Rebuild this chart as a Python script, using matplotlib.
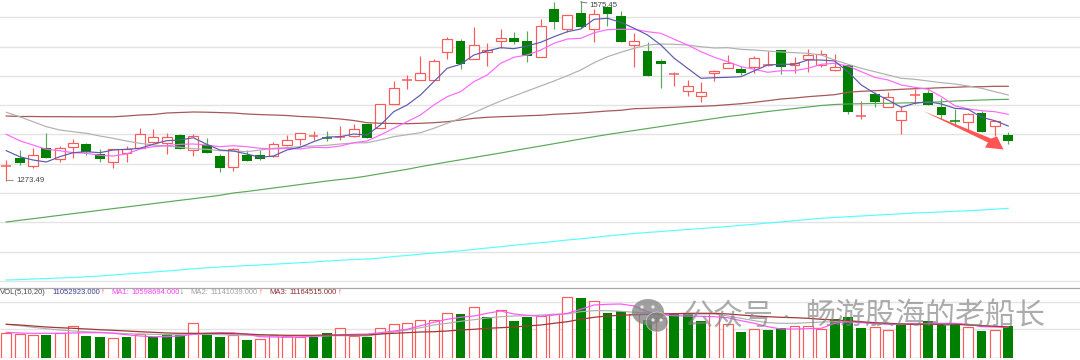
import matplotlib
matplotlib.use('Agg')
import matplotlib.pyplot as plt
from matplotlib.patches import Ellipse, Polygon

# no axis is printed on the chart, so prices and volumes are in picture units
OPEN = [194, 201.7, 194, 212, 200.7, 213.3, 216, 206, 198, 207.3, 211.7, 218.3, 217.3, 225.3, 209.7, 214.7, 204, 192.7, 205, 204.7, 204, 215.3, 220.7, 224.2, 223.7, 222.7, 224,
        235.7, 231.7, 255.7, 280, 279.7, 279.7, 307.7, 318.7, 301.3, 308, 319.3, 321.7, 318.7, 303.3, 351.3, 331.3, 347.3, 331, 352.7, 344, 314.7, 309.3, 299.3, 286.5, 268.7, 263.7, 286.7,
        291.7, 291, 292.7, 295, 309.7, 295.3, 301, 294.7, 290, 295, 244, 266, 252.7, 239.7, 265.3, 267.3, 253.3, 240, 237.7, 246.7, 233.7, 224.7]
CLOSE = [194, 197.3, 204.7, 202.3, 212, 217.3, 208, 200.7, 211.3, 211.3, 226, 223.3, 223.3, 211.3, 224.3, 206.7, 192, 210.7, 199.3, 200.7, 216.3, 219.7, 226.7, 224.5, 222.3, 223.7, 231.3,
         222.3, 256.3, 271.7, 280.5, 287.3, 299.3, 320.7, 295.7, 314.7, 310, 321.7, 317.7, 304, 334.3, 338.3, 345.3, 333, 346.3, 345.7, 317.7, 319.3, 284.3, 296.3, 286.8, 273.7, 267.7, 289.3,
         297.3, 287, 302.3, 295.7, 293.3, 297.3, 305.3, 306.3, 293.3, 247.7, 244.5, 258, 263.3, 249, 266.7, 255.3, 245.3, 239.3, 246, 228, 238.7, 218.7]
HIGH = [200, 210, 212, 227, 214, 221, 217, 211, 211.3, 214.3, 231.7, 230.7, 226.7, 226, 226, 221.7, 206, 211.7, 210, 210, 217.7, 225, 226.7, 229.3, 228.7, 234, 235.7,
        236, 256.3, 279.3, 285, 304, 300.7, 322.7, 320.7, 333.3, 316.7, 330.7, 328.3, 329.3, 340.7, 358.3, 345.3, 359, 350.7, 353, 349.3, 326.7, 318.3, 300.7, 288, 279.7, 278.3, 289.7,
        305, 294.3, 304, 309.3, 310, 302.7, 310.7, 310, 306, 295, 259, 268.3, 268, 254, 270.7, 270, 262.3, 251, 247.3, 249, 239.3, 228]
LOW = [179, 195, 192, 202, 198, 202, 205, 198, 192.3, 197.7, 211.7, 217.3, 205.7, 211.3, 204, 206.7, 187.7, 189.3, 199.3, 200, 203.3, 214.3, 215, 220, 218.7, 220, 223.3,
       222, 231.7, 255.7, 271.3, 279.7, 279.7, 301.3, 290.7, 300.7, 294.3, 311.7, 315.7, 297.7, 303.3, 330.7, 328.3, 331.7, 317.7, 334.3, 317.7, 293.3, 284.3, 272.3, 273.7, 264.3, 258, 279.3,
       291.7, 285.3, 287.3, 294.3, 286.3, 286.7, 287.7, 292.7, 289.3, 245.7, 240.7, 253.3, 252.7, 226.3, 256, 255.3, 240.7, 234, 228.3, 228, 224, 215.7]

MA5 = [209.3, 203.3, 200, 198, 203.3, 207.3, 208.3, 207.3, 210, 210.7, 211.7, 215.7, 219.3, 220, 222.3, 215.7, 210, 209, 206, 202.7, 204, 210, 212.7, 218.3, 223, 223.3, 226,
       225, 235, 248.3, 255, 265, 278.3, 291.7, 295.7, 305, 309, 312.3, 311.3, 314, 317.7, 323.3, 328.3, 331, 340.7, 341.7, 337.7, 331.7, 325, 315, 301.7, 291.7, 281.7, 282.3,
       282.7, 283.3, 289.3, 295, 295.7, 295.7, 300, 300, 299, 288.3, 275, 266.7, 260, 252.7, 256.7, 258.3, 256, 251.7, 250.7, 242.7, 239.3, 234]
MA10 = [225.7, 219.3, 215, 210.7, 209.3, 207.3, 206.7, 204.7, 204, 206, 211, 213.3, 214.3, 215.7, 216, 215, 213.3, 214.3, 213.3, 211.7, 211, 211.7, 211, 212.7, 212.3, 214, 217.3,
        219, 225, 231.7, 238.3, 245, 255, 263.3, 268.3, 278.3, 285, 296.7, 302.7, 305, 310, 316.7, 321, 321.7, 327.3, 330.3, 330.7, 330.7, 328.3, 326.7, 320.7, 315, 308.3, 302.7,
        298.3, 293.3, 290.7, 287.7, 289.3, 289.3, 291.7, 295.7, 296.7, 294, 288.3, 282.7, 280, 275, 272.7, 270.7, 263.3, 254.3, 251, 249.3, 248.3, 245.7]
MA20 = [247.7, 243.3, 238.3, 233.3, 230, 228.3, 226.7, 224, 221.7, 219, 216.7, 215, 214, 212.7, 211.3, 210.7, 209.3, 209, 208.3, 210, 211.7, 212.3, 213.3, 214, 214.7, 216, 217,
        217.3, 220, 223.3, 225.3, 227.3, 231.7, 236.7, 241.7, 247.3, 253.3, 259, 264, 269, 274, 279, 284.3, 290, 297.3, 303.3, 307.7, 311.7, 315, 316, 315.7, 315, 313.3, 312,
        312.3, 310.7, 310, 309, 308, 307.3, 306.7, 305, 300, 295.7, 291.7, 288.3, 285, 281.7, 280.7, 279, 277.3, 276, 274, 271.7, 268.3, 265]
MA60 = [244, 243.5, 243.5, 243.3, 243.3, 243.2, 243.2, 243.2, 243.2, 244, 245, 245.5, 247, 247.5, 248, 247.8, 247.4, 247, 246, 245.4, 245, 244.5, 243.5, 243, 242, 241, 239.5,
        237.3, 236.7, 236.5, 236.3, 236.7, 237.3, 238.3, 240, 241.7, 242.7, 243.3, 243.7, 244.3, 244.7, 245.7, 246.3, 247, 248, 249, 249.7, 251.3, 251.7, 252.3, 252.7, 253.3, 253.7, 254.3,
        255.3, 256.3, 257.7, 259.3, 261, 262, 263.3, 264.3, 265.3, 267.7, 268.7, 269.3, 270, 270.7, 271.3, 271.7, 272.3, 272.7, 273.3, 273.3, 273.7, 273.7]
MA120 = [138, 139.7, 141.3, 143, 144.7, 146.4, 148, 149.7, 151.4, 153, 154.7, 156.4, 158, 159.7, 161.3, 163, 164.7, 167, 168.5, 170.2, 172, 173.7, 175.5, 177.2, 179, 180.5, 182,
         184, 186.3, 188.5, 190.7, 193.3, 195.6, 198, 200.2, 202.5, 204.8, 207, 209.4, 211.7, 214, 216.3, 218.6, 221, 223.3, 225.5, 227.5, 229.5, 231.5, 233.5, 235.5, 237.5, 239.5, 241.5,
         243.5, 245, 246.8, 248.5, 250, 251.5, 253, 254.5, 255.5, 256, 256.3, 256.5, 256.7, 257, 257.3, 257.7, 258.2, 259, 259.5, 260, 260.4, 260.7]
MA250 = [80, 80.4, 81, 81.4, 82, 82.5, 83.2, 84, 85, 86, 87, 88, 89, 90, 91.2, 92.2, 93, 93.7, 94.4, 95, 95.8, 96.5, 97.3, 98, 99, 99.7, 100.4,
         101, 102, 103.5, 104.5, 105.8, 107, 108, 109.3, 110.5, 112, 113.3, 114.7, 116, 117.3, 118.5, 120, 121.2, 122.5, 124, 125.3, 126.5, 127.5, 128.5, 129.5, 130.5, 131.5, 132.5,
         133.5, 134.7, 135.7, 137, 138, 139.3, 140.5, 141.7, 142.5, 143.3, 144, 144.8, 145.5, 146.2, 147, 147.5, 148, 148.7, 149.3, 150, 150.8, 151.7]

VOL = [25.3, 24, 23, 23.3, 24.7, 31.7, 22, 20.7, 19.7, 20.7, 23.7, 20.7, 24, 23, 35.3, 24.7, 21.3, 23, 18, 18.7, 23, 22, 20.7, 21, 24.7, 29.7, 22.3,
       21.3, 29.7, 33.7, 35.3, 38.3, 37.7, 45.3, 44, 51, 40.7, 47.7, 37.3, 40.7, 42, 43.7, 61, 60.3, 56.7, 44.7, 47.3, 43.7, 38, 39.7, 45, 44.7, 37.3, 44.7,
       33.7, 26, 28.7, 28.3, 29.7, 32, 31.7, 29, 38.7, 41.3, 30.3, 31, 28, 33, 34.7, 37.3, 33.7, 34.3, 31, 26.7, 28, 32]
# volume colour does not always follow the candle colour, 1 = red
VOL_UP = [1, 1, 1, 0, 1, 1, 0, 0, 1, 0, 1, 0, 0, 0, 1, 0, 0, 1, 0, 1, 1, 1, 1, 0, 0, 1, 1,
          0, 1, 1, 1, 1, 1, 1, 0, 1, 0, 1, 0, 0, 1, 1, 1, 0, 1, 0, 0, 1, 0, 1, 0, 0, 0, 1,
          1, 0, 1, 0, 0, 1, 1, 1, 0, 0, 0, 1, 1, 0, 1, 0, 0, 0, 1, 0, 1, 0]
VOL_MA1 = [25.7, 25, 24.7, 24.7, 24.7, 25, 25.3, 25.3, 24.7, 23.3, 22, 21.3, 21.3, 22, 23.7, 24.7, 25.3, 25.3, 23.7, 21.3, 21, 20.7, 21, 21.7, 22.3, 23, 23.7,
           24, 25.3, 27, 28.7, 32.3, 35.7, 38.7, 40.7, 42, 44.7, 47, 44, 42.7, 41.7, 43, 44.7, 48.7, 53, 53.7, 54, 52, 46.3, 43, 42.3, 42, 41.7, 41.3,
           40.3, 37.3, 34.7, 31.3, 29, 29, 29.3, 29.7, 34.7, 36.3, 35.3, 34.3, 33.7, 34, 34.3, 34.3, 34.7, 34.7, 33.7, 31.3, 31, 30.7]
VOL_MA2 = [33.7, 32.3, 30.7, 29.3, 28, 27, 26.3, 25.7, 25, 24.3, 24, 23.7, 23.3, 23.3, 23.7, 23.7, 23.3, 23, 22.7, 22.3, 22, 22, 22, 22, 22.3, 22.3, 22.3,
           22, 24, 26, 28, 30.3, 33, 34.7, 36.7, 38.3, 40, 41.3, 42, 42.3, 43, 43.7, 44, 46.3, 47.3, 47.3, 46.7, 45.7, 45, 44.7, 44.3, 44, 44, 44,
           42, 39.7, 37.3, 35.3, 34.7, 34.7, 35.3, 36, 36.3, 36.3, 35.7, 34.7, 34.3, 34, 34, 34, 33.7, 33.7, 33.3, 32.3, 31.7, 31]
VOL_MA3 = [33.7, 33, 32, 31, 30.3, 29.7, 29, 28.3, 27.7, 27, 26.3, 25.7, 25, 24.7, 24.7, 24.7, 24.7, 24.3, 24, 23.3, 23, 22.7, 22.7, 22.7, 23, 23, 23,
           23, 24, 24.7, 25.3, 26, 26.3, 27, 28, 28.7, 29.7, 30.3, 31, 32, 33, 34.7, 36.3, 38.7, 40.7, 42, 42.7, 43.3, 43.7, 44, 44.3, 44.7, 44.7, 44.7,
           44, 43, 42, 41.3, 40.7, 40.3, 39.7, 38.7, 38, 37.3, 36.3, 35.3, 34.7, 34, 33.7, 33.7, 33.7, 33.7, 33, 32.3, 31.7, 31]

LOW_LABEL = '1273.49'
HIGH_LABEL = '1575.45'
PRICE_GRID = [343, 313.3, 284.3, 255, 226, 196.3, 167, 137.7, 108.3, 79]
VOL_GRID = [56, 29]

RED = '#ff5a5a'
GREEN = '#008000'
X_LIM = (-0.47, 80.37)

plt.rcParams['font.family'] = ['Liberation Sans', 'DejaVu Sans']

fig = plt.figure(figsize=(10.8, 3.6), dpi=100)
ax = fig.add_axes([0, 0, 1, 1])
ax.set_xlim(*X_LIM)
ax.set_ylim(0, 360)
ax.axis('off')

for level in PRICE_GRID:
    ax.axhline(level, color='#e4e4e4', lw=1.0, zorder=1)
ax.axhline(71.7, color='#a8a8a8', lw=0.9, zorder=1)

xs = list(range(len(OPEN)))
for i in xs:
    up = CLOSE[i] >= OPEN[i]
    color = RED if up else GREEN
    wick_color = RED if up else '#5aa85a'
    ax.vlines(i, LOW[i], HIGH[i], color=wick_color, lw=0.85, zorder=2)
    bottom = min(OPEN[i], CLOSE[i])
    height = abs(CLOSE[i] - OPEN[i])
    if height < 1.5:
        # doji, only a flat tick is left of the body
        ax.hlines(bottom, i - 0.37, i + 0.37, color=color, lw=1.1, zorder=3)
    elif up:
        ax.bar(i, height, 0.74, bottom, facecolor='white', edgecolor=RED, lw=0.85, zorder=3)
    else:
        ax.bar(i, height, 0.74, bottom, color=GREEN, zorder=3)

ax.plot(xs, MA250, color='#55ffff', lw=0.85, zorder=4)
ax.plot(xs, MA120, color='#5aa85a', lw=0.85, zorder=4)
ax.plot(xs, MA60, color='#a85858', lw=0.9, zorder=4)
ax.plot(xs, MA20, color='#b0b0b0', lw=0.85, zorder=4)
ax.plot(xs, MA10, color='#ff66ff', lw=0.85, zorder=4)
ax.plot(xs, MA5, color='#5a5ab0', lw=0.85, zorder=4)

label_style = dict(fontsize=5.6, color='#444444', va='center', ha='left', zorder=6)
ax.annotate(LOW_LABEL, xy=(0, min(LOW) + 0.5), xytext=(7, 0), textcoords='offset points',
            arrowprops=dict(arrowstyle='-', color='#999999', lw=0.8, shrinkA=0, shrinkB=0), **label_style)
ax.annotate(HIGH_LABEL, xy=(43, max(HIGH) - 1), xytext=(6.5, -2.5), textcoords='offset points',
            arrowprops=dict(arrowstyle='-', color='#777777', lw=0.7, shrinkA=0, shrinkB=0), **label_style)

ax_vol = fig.add_axes([0, 2 / 360, 1, 70 / 360])
ax_vol.patch.set_alpha(0)
ax_vol.set_xlim(*X_LIM)
ax_vol.set_ylim(0, 70)
ax_vol.axis('off')
for level in VOL_GRID:
    ax_vol.axhline(level, color='#e4e4e4', lw=1.0, zorder=1)
for i in xs:
    if VOL_UP[i]:
        ax_vol.bar(i, VOL[i], 0.74, facecolor='white', edgecolor=RED, lw=0.85, zorder=2)
    else:
        ax_vol.bar(i, VOL[i], 0.74, color=GREEN, zorder=2)
ax_vol.plot(xs, VOL_MA2, color='#b0b0b0', lw=0.85, zorder=3)
ax_vol.plot(xs, VOL_MA1, color='#ff55ff', lw=0.85, zorder=3)
ax_vol.plot(xs, VOL_MA3, color='#a03838', lw=0.9, zorder=3)

# screen overlay in pixels: vol legend, red arrow, watermark
over = fig.add_axes([0, 0, 1, 1])
over.patch.set_alpha(0)
over.set_xlim(0, 1080)
over.set_ylim(360, 0)
over.axis('off')

legend_parts = [
    (0, 'VOL(5,10,20)', '#444444'),
    (52, '11052923.000', '#3a3a9a'),
    (101, '↑', '#ff3030'),
    (111, 'MA1:', '#ff40ff'),
    (131, '10598694.000', '#ff40ff'),
    (180, '↓', '#209020'),
    (190, 'MA2:', '#a0a0a0'),
    (210, '11141039.000', '#a0a0a0'),
    (259, '↑', '#ff3030'),
    (269, 'MA3:', '#8c2c2c'),
    (289, '11164515.000', '#8c2c2c'),
    (338, '↑', '#ff3030'),
]
for x, text, color in legend_parts:
    over.text(x, 292.5, text, fontsize=5.5, color=color, va='center', ha='left')

over.add_patch(Polygon([(923, 111), (991, 138.5), (997, 136.5), (1003.5, 149.5),
                        (985, 147.5), (988, 142.5)], closed=True, facecolor='#ff5555', edgecolor='none', zorder=5))

mark = '#808080'
over.add_patch(Ellipse((648, 312), 32, 26, facecolor=mark, alpha=0.75, edgecolor='none', zorder=6))
over.add_patch(Ellipse((657, 322), 22, 20, facecolor=mark, alpha=0.75, edgecolor='white', lw=0.4, zorder=6))
for eye_x, eye_y in [(642, 307), (653, 307), (653, 320), (661, 320)]:
    over.add_patch(Ellipse((eye_x, eye_y), 3.2, 3.2, facecolor='white', alpha=0.8, edgecolor='none', zorder=7))

wm_fonts = ['Noto Sans CJK SC', 'DejaVu Sans']
over.text(683, 316, '公众号', fontsize=21.6, family=wm_fonts, color=mark, alpha=0.65, va='center', ha='left', zorder=7)
over.text(786, 317, '·', fontsize=12, family=wm_fonts, color=mark, alpha=0.65, va='center', ha='center', zorder=7)
over.text(805, 316, '畅游股海的老船长', fontsize=21.6, family=wm_fonts, color=mark, alpha=0.65, va='center', ha='left', zorder=7)

fig.savefig('out.png', dpi=100)
plt.close()
